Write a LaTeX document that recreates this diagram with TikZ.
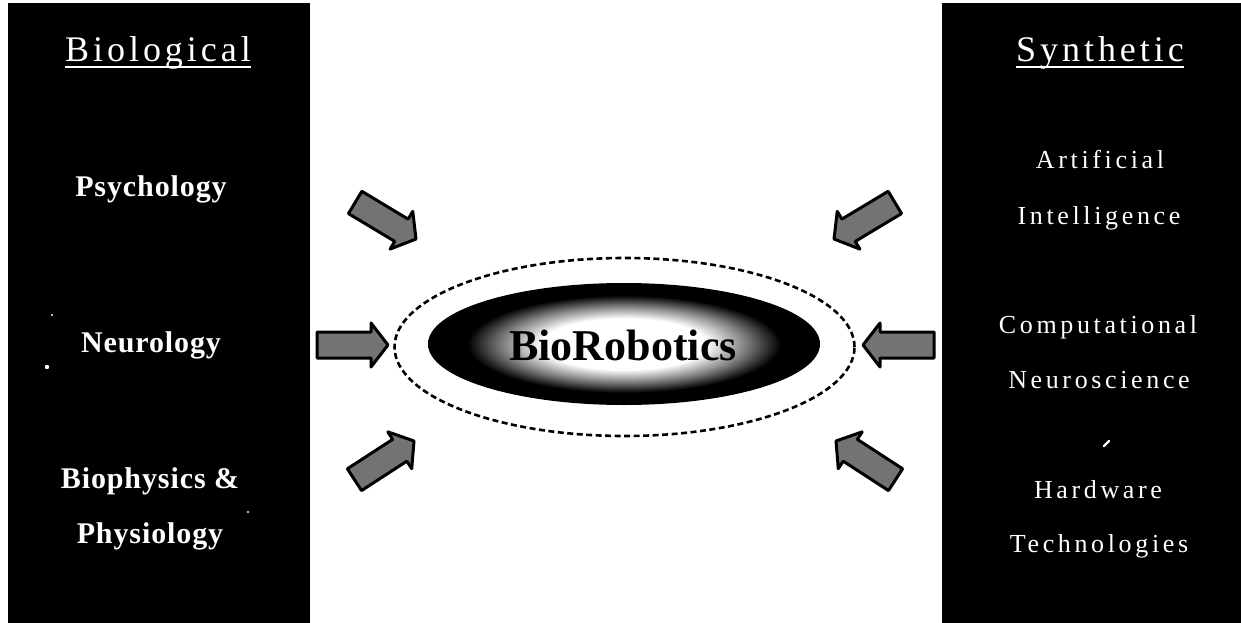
\documentclass[tikz,border=0pt]{standalone}
\usepackage{fontspec}
\setmainfont{Liberation Serif}
\newfontfamily\headfont[LetterSpace=11]{Liberation Serif}
\newfontfamily\synfont[LetterSpace=14]{Liberation Serif}
\newfontfamily\biofont[LetterSpace=3]{Liberation Serif}
\usetikzlibrary{shapes.geometric}
\pgfdeclareradialshading{glow}{\pgfpoint{0bp}{0bp}}{color(0bp)=(white); color(10.5bp)=(white); color(15.5bp)=(black!50); color(20bp)=(black); color(50bp)=(black)}
\tikzset{
  panel/.style={fill=black, draw=none},
  headtxt/.style={text=white, anchor=base, inner sep=0pt, font=\headfont\fontsize{36}{40}\selectfont},
  biotxt/.style={text=white, anchor=base, inner sep=0pt, font=\biofont\bfseries\fontsize{30}{34}\selectfont},
  syntxt/.style={text=white, anchor=base, inner sep=0pt, font=\synfont\fontsize{26}{30}\selectfont},
  uline/.style={draw=white, line width=2pt},
  arrowbody/.style={draw=black, fill=black!55, line width=3pt, line join=round},
  blockarrow/.pic={\draw[arrowbody] (0pt,0pt) -- (-17pt,22pt) -- (-17pt,13pt) -- (-71pt,13pt) -- (-71pt,-13pt) -- (-17pt,-13pt) -- (-17pt,-22pt) -- cycle;},
  speck/.style={fill=white, draw=none}
}
\begin{document}
\begin{tikzpicture}[x=1pt,y=-1pt]
\useasboundingbox (0,0) rectangle (1241,623);
\fill[white] (0,0) rectangle (1241,623);
% panels
\path[panel] (8,3) rectangle (310,623);
\path[panel] (942,3) rectangle (1241,623);
% left panel texts
\node[headtxt] (bio) at (158,62) {Biological};
\draw[uline] ([yshift=-5pt]bio.base west) -- ([yshift=-5pt]bio.base east);
\node[biotxt] (psy) at (151,196) {Psychology};
\node[biotxt] (neu) at (151,352) {Neurology};
\node[biotxt] (bph) at (150,488) {Biophysics \&};
\node[biotxt] (phy) at (150,543) {Physiology};
% right panel texts
\node[headtxt] (syn) at (1100,62) {Synthetic};
\draw[uline] ([yshift=-5pt]syn.base west) -- ([yshift=-5pt]syn.base east);
\node[syntxt] (art) at (1100,168) {Artificial};
\node[syntxt] (int) at (1099,224) {Intelligence};
\node[syntxt] (comp) at (1098,333) {Computational};
\node[syntxt] (nsc) at (1099,388) {Neuroscience};
\node[syntxt] (hard) at (1098,498) {Hardware};
\node[syntxt] (tech) at (1099,552) {Technologies};
% stray marks
\draw[white, line width=2.2pt, line cap=round] (1104,446) -- (1109,441);
\fill[speck] (47,367) circle (2.2pt);
\fill[speck] (52,315) circle (1.2pt);
\fill[speck] (248,512) circle (1.2pt);
% centre
\node[ellipse, draw=black, dashed, dash pattern=on 6pt off 3.5pt, line width=2.6pt,
      minimum width=460pt, minimum height=178pt, inner sep=0pt] (ring) at (624.5,347) {};
\node[ellipse, shade, shading=glow, draw=none,
      minimum width=392pt, minimum height=122pt, inner sep=0pt] (core) at (624,344) {};
\node[anchor=base, inner sep=0pt, font=\bfseries\fontsize{44}{48}\selectfont] (title) at (623,360) {BioRobotics};
% block arrows
\pic[rotate=0] at (388,345) {blockarrow};
\pic[rotate=180] at (863,345) {blockarrow};
\pic[rotate=-31] at (416,239) {blockarrow};
\pic[rotate=33] at (414,441) {blockarrow};
\pic[rotate=211] at (834,239) {blockarrow};
\pic[rotate=147] at (836,441) {blockarrow};
\end{tikzpicture}
\end{document}
